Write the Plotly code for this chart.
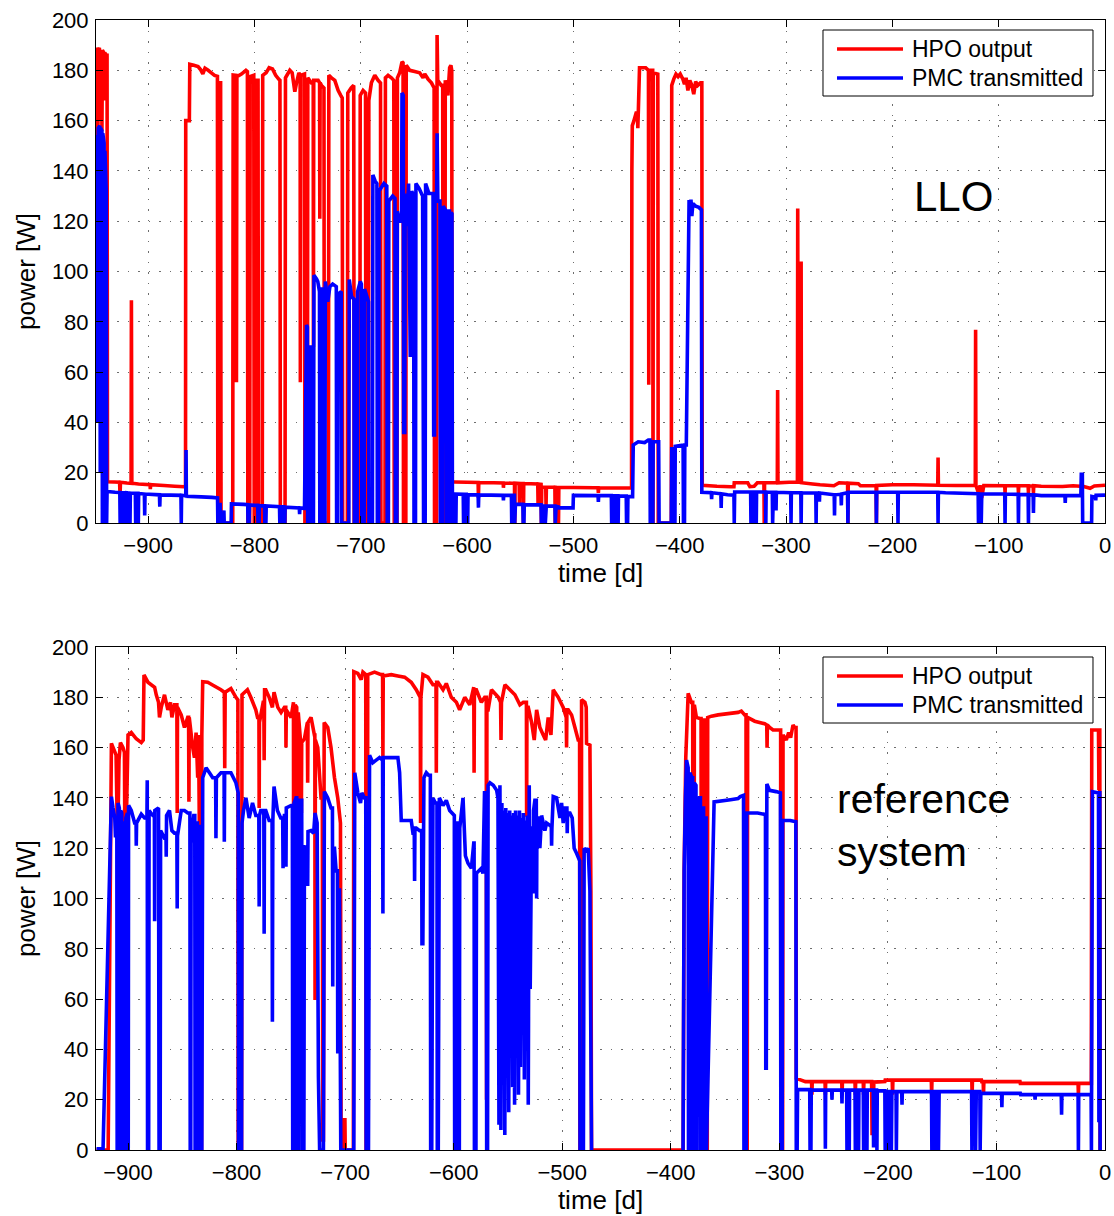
import plotly.graph_objects as go
from plotly.subplots import make_subplots

# ---------------------------------------------------------------------------
# LLO: HPO output power and PMC transmitted power, (time [d], power [W])
# ---------------------------------------------------------------------------
llo_hpo = [
    (-949.0, 152), (-948.6, 189), (-947.6, 187), (-947.2, 153), (-946.8, 188), (-945.8, 189),
    (-945.4, 160), (-945.0, 188), (-943.8, 186), (-943.4, 156), (-943.0, 188), (-941.6, 187),
    (-941.2, 168), (-940.8, 187), (-939.2, 186), (-938.6, 186), (-938.2, 16.4),
    (-932.0, 16.3), (-926.8, 16.2), (-926.4, 11.0), (-926.0, 16.2), (-920.0, 15.9), (-916.0, 15.8),
    (-915.7, 88.6), (-915.3, 15.8), (-909.0, 15.5), (-898.2, 15.2), (-897.9, 13.5), (-897.6, 15.2),
    (-885.0, 14.9), (-875.0, 14.6), (-866.0, 14.4), (-864.8, 14.3), (-864.6, 160), (-861.2, 160),
    (-860.8, 182.4), (-857.0, 182.0), (-853.0, 181.5), (-850.5, 180.2), (-848.5, 178.6),
    (-846.5, 180.8), (-843.5, 180.0), (-840.5, 179.0), (-837.5, 178.0), (-834.8, 177.6),
    (-834.4, 0), (-832.8, 0), (-832.4, 175), (-831.8, 175), (-831.4, 0), (-820.4, 0),
    (-820.0, 178.1), (-817.3, 178.0), (-816.9, 56), (-816.5, 177.5), (-812.2, 178.5),
    (-808.0, 180.0), (-806.6, 179.5), (-806.2, 0), (-804.4, 0), (-804.0, 177.5), (-800.6, 178.0),
    (-800.2, 0), (-798.6, 0), (-798.2, 176), (-796.6, 176), (-796.2, 0), (-792.6, 0), (-792.2, 178),
    (-789.0, 179), (-786.2, 181), (-783.0, 180.5), (-780.0, 178), (-777.2, 176.5), (-776.0, 176),
    (-775.6, 0), (-771.2, 0), (-770.8, 177), (-766.7, 180), (-764.5, 179), (-762.0, 171.5),
    (-760.4, 175), (-758.2, 179), (-757.0, 178), (-756.8, 56), (-756.4, 178), (-752.9, 178.5),
    (-752.5, 0), (-750.2, 0), (-749.8, 177), (-746.4, 175), (-744.7, 175), (-744.5, 70),
    (-744.2, 176), (-740.1, 176), (-738.7, 175), (-738.5, 121), (-738.2, 175), (-736.9, 174),
    (-734.6, 173), (-734.2, 0), (-730.4, 0), (-730.0, 178), (-727.5, 177), (-724.4, 176),
    (-721.3, 172), (-718.8, 170), (-717.4, 169), (-717.0, 0), (-712.6, 0), (-712.2, 171),
    (-709.0, 173), (-706.6, 174), (-706.2, 0), (-700.9, 0), (-700.5, 170), (-697.8, 172),
    (-695.5, 171), (-695.1, 0), (-692.8, 0), (-692.4, 168), (-690.0, 175), (-686.8, 178),
    (-683.7, 176), (-681.4, 175), (-681.0, 0), (-677.2, 0), (-676.8, 177), (-674.3, 178),
    (-671.2, 177), (-668.9, 176), (-668.5, 0), (-665.9, 0), (-665.5, 177), (-663.4, 179),
    (-661.2, 183.4), (-660.2, 183), (-659.8, 0), (-657.6, 0), (-657.2, 182), (-654.0, 180),
    (-649.3, 179.5), (-644.6, 179), (-641.4, 177), (-639.8, 178.5), (-636.7, 176.5),
    (-633.5, 175), (-631.0, 173), (-630.6, 0), (-628.6, 0), (-628.2, 194), (-627.6, 176),
    (-624.3, 174), (-622.9, 174), (-622.5, 0), (-620.9, 0), (-620.5, 176), (-618.0, 170),
    (-616.4, 181), (-615.2, 182), (-614.4, 180), (-614.0, 16.3),
    (-612.0, 16.3), (-600.0, 16.2), (-589.6, 16.1), (-589.3, 10.0), (-589.0, 16.1),
    (-575.0, 16.0), (-566.0, 15.9), (-565.8, 14.0), (-565.5, 15.9), (-558.0, 15.8),
    (-555.4, 15.8), (-555.1, 0), (-554.8, 15.8), (-551.0, 15.7), (-550.7, 7.0), (-550.4, 15.7),
    (-547.3, 15.7), (-547.0, 0), (-546.7, 15.7), (-540.0, 15.6), (-533.5, 15.5), (-533.2, 7),
    (-532.9, 15.5), (-530.4, 15.4), (-530.1, 0), (-529.8, 14.2), (-526.0, 14.2), (-525.7, 7.0),
    (-525.4, 14.2), (-517.4, 14.2), (-517.1, 0), (-516.8, 14.2), (-514.3, 14.1), (-514.0, 0),
    (-513.7, 14.1), (-500.0, 14.1), (-480.0, 14.0), (-476.8, 14.0), (-476.5, 12.0),
    (-476.2, 14.0), (-460.0, 13.9), (-447.0, 13.9), (-445.3, 13.9),
    (-445.0, 140), (-444.6, 158), (-443.0, 160), (-441.0, 163), (-439.8, 163), (-439.4, 157),
    (-438.9, 164), (-437.8, 181), (-432.0, 181), (-429.4, 180), (-429.1, 55), (-428.8, 180),
    (-425.4, 180), (-425.1, 0), (-424.8, 179), (-420.6, 178.5), (-420.2, 0), (-407.9, 0),
    (-407.5, 174), (-405.6, 176.5), (-403.5, 178.5), (-401.5, 177.5), (-399.5, 178.5),
    (-397.0, 176.5), (-395.5, 174.5), (-394.0, 177), (-392.3, 172), (-390.5, 176),
    (-388.6, 174), (-386.8, 170.5), (-385.0, 175.5), (-383.0, 174), (-380.5, 175),
    (-379.2, 175), (-378.8, 15.0),
    (-365.0, 14.6), (-352.0, 14.4), (-349.0, 14.4), (-348.7, 16.0), (-336.0, 16.0),
    (-334.0, 14.5), (-330.0, 14.6), (-327.0, 16.0), (-320.8, 16.0), (-320.5, 0), (-320.2, 16.0),
    (-308.2, 16.0), (-307.9, 52.9), (-307.6, 16.0), (-297.0, 16.2), (-289.3, 16.2),
    (-289.0, 125), (-288.6, 16.2), (-286.1, 16.2), (-285.8, 104), (-285.5, 16.0),
    (-275.0, 15.5), (-268.0, 15.2), (-255.0, 14.8), (-250.0, 16.0), (-242.1, 15.8),
    (-241.8, 0), (-241.5, 15.8), (-232.0, 15.6), (-230.0, 14.8), (-215.3, 14.8), (-215.0, 0),
    (-214.7, 14.9), (-200.0, 15.2), (-180.0, 15.2), (-157.3, 15.0), (-157.0, 26.0),
    (-156.7, 15.0), (-140.0, 14.9), (-122.0, 14.9), (-121.7, 76.8), (-121.4, 14.9),
    (-119.0, 12.0), (-117.5, 15.0), (-116.0, 10.0), (-114.0, 14.9), (-94.3, 14.8), (-94.0, 12),
    (-93.7, 14.8), (-81.7, 14.8), (-81.4, 12), (-81.1, 14.8), (-72.3, 14.8), (-72.0, 12),
    (-71.7, 14.8), (-67.6, 14.7), (-67.3, 12), (-67.0, 14.8), (-60.0, 14.6), (-40.0, 14.5),
    (-30.0, 14.8), (-20.0, 14.5), (-14.0, 13.8), (-10.0, 14.7), (0.0, 15.0),
]

llo_pmc = [
    (-949.0, 113), (-948.7, 153), (-947.7, 154), (-947.3, 40), (-946.9, 157), (-945.4, 158),
    (-945.0, 20), (-944.6, 157), (-943.4, 156), (-943.0, 0), (-942.6, 155), (-941.4, 151),
    (-941.0, 0), (-940.6, 148), (-939.4, 132), (-939.0, 0), (-938.6, 12.5),
    (-931.0, 12.2), (-926.6, 12.1), (-926.3, 0), (-925.3, 0), (-925.0, 12.0), (-923.8, 12.0),
    (-923.5, 0), (-923.2, 12.0), (-920.6, 12.0), (-920.3, 0), (-920.0, 12.0), (-917.3, 11.9),
    (-917.0, 0), (-916.7, 11.9), (-912.0, 11.8), (-911.7, 0), (-911.4, 11.8), (-910.7, 11.8),
    (-910.4, 0), (-910.1, 11.8), (-909.5, 11.8), (-909.2, 0), (-908.9, 11.7), (-903.5, 11.5),
    (-903.2, 3), (-902.9, 11.5), (-889.3, 11.2), (-889.0, 6.5), (-888.7, 11.2), (-869.1, 11.0),
    (-868.8, 0), (-868.5, 11.0), (-864.6, 10.8), (-864.3, 29), (-864.0, 10.6),
    (-850.0, 10.4), (-840.0, 10.2), (-834.7, 10.0), (-834.4, 0), (-832.6, 0), (-832.3, 8),
    (-832.0, 0), (-829.0, 0), (-828.7, 5), (-828.4, 0), (-821.9, 0), (-821.6, 7.6),
    (-810.0, 7.4), (-806.3, 7.3), (-806.0, 0), (-805.0, 0), (-804.7, 7.2), (-800.0, 7.0),
    (-796.9, 7.0), (-796.6, 0), (-795.6, 0), (-795.3, 6.9), (-790.5, 6.8), (-790.2, 0),
    (-789.2, 0), (-788.9, 6.8), (-776.4, 6.5), (-776.1, 0), (-775.1, 0), (-774.8, 6.4),
    (-772.4, 6.4), (-772.1, 0), (-771.4, 0), (-771.1, 6.3), (-757.8, 6.0), (-757.5, 3.5),
    (-757.2, 6.0), (-753.2, 5.8),
    (-752.9, 5.8), (-751.0, 78.7), (-750.2, 78), (-749.9, 0), (-749.0, 0), (-748.4, 70),
    (-746.2, 70), (-745.8, 0), (-744.5, 0), (-744.0, 98.5), (-741.6, 97), (-740.4, 96),
    (-738.8, 92), (-738.5, 0), (-737.5, 0), (-737.2, 93), (-735.0, 93), (-734.6, 0),
    (-733.7, 0), (-733.3, 96), (-731.0, 88), (-729.0, 94), (-726.4, 95), (-723.0, 94),
    (-722.7, 0), (-721.8, 0), (-721.5, 91), (-718.4, 92), (-718.0, 0), (-711.2, 0),
    (-710.8, 96.8), (-708.6, 90), (-706.4, 89), (-706.0, 0), (-703.4, 0), (-703.0, 92),
    (-700.4, 96), (-699.4, 95), (-699.0, 0), (-696.8, 0), (-696.4, 93), (-692.7, 88),
    (-692.3, 0), (-689.0, 0), (-688.6, 138.4), (-686.5, 136), (-684.8, 135), (-684.4, 0),
    (-683.2, 0), (-682.8, 132), (-678.2, 135), (-675.5, 134), (-675.1, 0), (-674.0, 0),
    (-673.6, 128), (-670.0, 130), (-667.8, 129), (-667.4, 0), (-666.0, 0), (-665.6, 124),
    (-663.4, 120), (-661.6, 120), (-661.2, 171), (-660.0, 170), (-659.6, 36), (-658.6, 36),
    (-658.2, 131), (-656.7, 118), (-655.0, 135), (-653.4, 66), (-652.0, 132), (-650.3, 130),
    (-649.9, 0), (-648.5, 0), (-648.1, 135), (-645.0, 133), (-641.8, 130), (-640.9, 0),
    (-639.4, 0), (-639.0, 135), (-635.8, 131), (-632.0, 131), (-631.4, 35), (-630.6, 35),
    (-630.2, 131), (-628.6, 131), (-628.2, 155), (-627.5, 128), (-625.5, 128), (-625.1, 0),
    (-622.8, 0), (-622.4, 126), (-619.6, 124), (-619.2, 0), (-618.4, 0), (-618.0, 124),
    (-616.5, 124), (-616.1, 0), (-615.3, 0), (-614.9, 123.5), (-614.2, 123), (-613.8, 11.8),
    (-612.3, 11.5), (-612.0, 0), (-610.5, 0), (-610.2, 11.5), (-603.6, 11.4), (-603.3, 0),
    (-602.0, 0), (-601.7, 11.4), (-600.8, 11.4), (-600.5, 0), (-599.4, 0), (-599.1, 11.3),
    (-589.6, 11.2), (-589.3, 6.1), (-589.0, 11.2), (-566.1, 11.0), (-565.8, 9.0),
    (-565.5, 11.0), (-558.3, 11.0), (-558.0, 0), (-557.0, 0), (-556.7, 11.0), (-555.5, 11.0),
    (-555.2, 0), (-554.5, 7.4), (-547.5, 7.4), (-547.2, 0), (-546.5, 0), (-546.2, 7.3),
    (-530.4, 7.2), (-530.1, 0), (-529.5, 0), (-529.2, 6.7), (-526.7, 6.7), (-526.4, 0),
    (-525.5, 6.7), (-517.3, 6.7), (-517.0, 0), (-516.3, 6.6), (-514.2, 6.4), (-513.9, 6.0),
    (-500.3, 6.0), (-500.0, 11.0), (-476.8, 10.9), (-476.5, 8.4), (-476.2, 10.9),
    (-464.3, 10.9), (-464.0, 0), (-463.0, 0), (-462.7, 10.8), (-461.0, 10.8), (-460.7, 0),
    (-459.8, 0), (-459.5, 10.8), (-458.2, 10.8), (-457.9, 0), (-457.6, 10.8), (-450.3, 10.7),
    (-450.0, 0), (-449.0, 0), (-448.7, 10.5), (-444.3, 10.5),
    (-443.7, 31.0), (-439.0, 32.3), (-433.0, 32.0), (-429.5, 33.0), (-428.0, 33.0),
    (-427.7, 0), (-425.3, 0), (-425.0, 32.3), (-419.8, 32.3), (-419.4, 0), (-407.9, 0),
    (-407.5, 29.5), (-405.5, 29.5), (-405.2, 0), (-404.5, 0), (-404.2, 30.5), (-396.8, 31),
    (-396.5, 0), (-395.5, 0), (-395.2, 31), (-393.8, 31), (-391.2, 128.4), (-390.3, 124),
    (-389.4, 128.6), (-388.6, 122), (-387.6, 127), (-385.0, 126), (-382.0, 125.5),
    (-379.6, 124.5), (-379.2, 12.2),
    (-370.3, 12.0), (-370.0, 9.5), (-369.7, 12.0), (-361.3, 11.6), (-361.0, 6.0),
    (-360.7, 11.6), (-355.0, 11.2), (-349.0, 11.1), (-348.7, 0), (-348.3, 12.3),
    (-333.3, 12.3), (-333.0, 0), (-332.2, 12.3), (-330.8, 12.3), (-330.5, 0), (-329.9, 12.3),
    (-328.3, 12.3), (-328.0, 0), (-327.7, 12.3), (-319.3, 12.3), (-319.0, 0), (-318.7, 12.3),
    (-312.9, 12.2), (-312.6, 0), (-311.9, 12.2), (-309.7, 12.2), (-309.4, 5), (-309.1, 12.2),
    (-295.6, 12.0), (-295.3, 0), (-295.0, 12.0), (-286.1, 12.0), (-285.8, 0), (-285.5, 12.0),
    (-272.0, 11.9), (-271.7, 0), (-271.4, 11.9), (-268.9, 11.9), (-268.6, 8.5),
    (-268.3, 11.9), (-254.7, 11.2), (-254.4, 3), (-254.1, 11.2), (-248.3, 11.4), (-248.0, 7),
    (-247.7, 11.5), (-242.1, 12.0), (-241.8, 0), (-241.5, 12.2), (-215.3, 12.2), (-215.0, 0),
    (-214.7, 12.2), (-195.0, 12.2), (-194.7, 0), (-194.4, 12.2), (-157.3, 12.2), (-157.0, 0),
    (-156.7, 12.2), (-150.0, 12.0), (-119.3, 11.6), (-119.0, 0), (-118.5, 11.6),
    (-117.8, 0), (-117.2, 11.5), (-116.4, 0), (-115.9, 11.5), (-94.3, 11.5), (-94.0, 0),
    (-93.7, 11.5), (-81.7, 11.4), (-81.4, 0), (-81.1, 11.4), (-72.3, 11.3), (-72.0, 0),
    (-71.7, 11.3), (-67.6, 11.2), (-67.3, 4), (-67.0, 11.2), (-60.0, 10.9), (-37.7, 10.9),
    (-37.4, 8), (-37.1, 10.9), (-22.7, 10.9), (-22.3, 19.4), (-21.3, 19.4), (-21.0, 0),
    (-12.6, 0), (-12.3, 10.5), (-9.0, 10.2), (-8.7, 9.0), (-8.4, 11.0), (0.0, 11.1),
]

# ---------------------------------------------------------------------------
# Reference system: HPO output power and PMC transmitted power
# ---------------------------------------------------------------------------
ref_hpo = [
    (-929.0, 0), (-918.3, 0), (-915.3, 161.7), (-912.8, 159), (-911.0, 157), (-910.0, 131),
    (-909.2, 131), (-908.3, 155), (-907.0, 162), (-904.6, 160), (-903.3, 158), (-903.0, 130.5),
    (-901.5, 131), (-900.0, 165), (-897.0, 166), (-892.4, 163.5), (-887.8, 162), (-886.0, 163),
    (-885.3, 188.9), (-881.7, 186), (-875.5, 184), (-874.0, 181), (-871.9, 178), (-871.0, 172),
    (-869.4, 176), (-866.4, 181), (-863.3, 175), (-860.9, 178), (-859.6, 172), (-857.2, 177),
    (-855.0, 177), (-854.7, 134), (-854.4, 176), (-851.0, 173), (-848.0, 168), (-845.0, 172),
    (-844.2, 172), (-843.9, 138.5), (-843.6, 172), (-840.4, 160), (-838.8, 156), (-837.3, 166),
    (-835.8, 148), (-835.0, 165), (-834.3, 128.6), (-833.6, 160), (-833.3, 0), (-832.3, 0),
    (-832.0, 165), (-831.2, 186.2), (-826.6, 186), (-820.5, 184.5), (-814.4, 183),
    (-811.3, 182), (-810.9, 151.8), (-810.5, 182), (-805.2, 183.5), (-800.6, 180),
    (-798.8, 179), (-798.5, 0), (-795.4, 0), (-795.0, 181), (-790.0, 183), (-786.9, 180),
    (-782.3, 175), (-780.7, 172), (-779.4, 172), (-779.2, 136), (-778.9, 170), (-775.5, 178),
    (-774.9, 178), (-774.6, 155), (-774.2, 183), (-773.1, 183), (-770.0, 180), (-767.0, 176),
    (-765.5, 182), (-762.0, 176), (-759.0, 174), (-755.9, 176), (-754.7, 176), (-754.5, 160),
    (-754.2, 175), (-749.8, 172), (-747.6, 178), (-747.2, 0), (-746.4, 0), (-746.0, 177),
    (-744.6, 176), (-744.2, 0), (-743.6, 0), (-743.2, 174), (-740.6, 160), (-740.3, 134),
    (-740.0, 162), (-737.5, 163.5), (-734.8, 170), (-734.5, 146), (-734.2, 170),
    (-731.4, 172), (-728.3, 165), (-727.9, 165), (-727.7, 59.6), (-727.4, 163), (-725.2, 160),
    (-723.7, 150), (-722.2, 140), (-721.0, 140), (-720.6, 4), (-720.0, 4), (-719.3, 170),
    (-716.0, 168), (-713.0, 160), (-709.8, 148), (-706.8, 140), (-704.3, 130), (-703.7, 1),
    (-700.9, 0), (-700.6, 12), (-700.2, 12), (-699.9, 0), (-692.4, 0), (-692.0, 190.2),
    (-688.3, 189.5), (-685.2, 187), (-683.6, 190), (-681.0, 189), (-680.7, 0), (-679.5, 0),
    (-679.2, 189), (-676.0, 189.5), (-672.9, 190), (-666.8, 189), (-665.5, 189),
    (-665.2, 156), (-664.9, 188.5), (-657.5, 189), (-651.4, 188.5), (-645.2, 188),
    (-639.1, 186), (-634.5, 183), (-630.8, 180), (-630.5, 130), (-630.2, 180), (-628.3, 189),
    (-623.7, 188), (-619.1, 185), (-616.3, 185), (-616.0, 150), (-615.7, 186), (-614.5, 186),
    (-609.8, 183), (-606.8, 185.5), (-602.2, 180), (-597.5, 178), (-594.5, 175),
    (-589.8, 180), (-585.2, 177), (-581.5, 184), (-581.2, 150), (-580.9, 183), (-579.1, 183),
    (-574.5, 178), (-571.4, 180), (-570.0, 180), (-569.7, 20), (-569.4, 175), (-568.3, 175),
    (-565.2, 183), (-561.0, 181), (-558.9, 180), (-556.8, 178), (-556.4, 163), (-556.0, 178),
    (-552.8, 185), (-548.2, 183), (-543.6, 181), (-539.0, 177), (-535.9, 178), (-533.0, 178),
    (-532.8, 132.5), (-532.5, 176), (-531.3, 176), (-528.2, 170), (-525.8, 163),
    (-523.6, 175), (-520.6, 168), (-517.5, 165), (-515.3, 163), (-512.9, 172), (-510.4, 165),
    (-508.3, 183), (-503.7, 180), (-499.1, 176), (-496.3, 172), (-496.0, 160), (-495.7, 175),
    (-494.5, 175), (-491.4, 173), (-488.3, 168), (-485.3, 163), (-484.0, 163), (-483.7, 0),
    (-482.5, 0), (-482.2, 179), (-479.1, 178), (-477.9, 176), (-477.6, 161.7), (-474.5, 161),
    (-473.6, 103), (-473.0, 0), (-388.6, 0), (-387.7, 111), (-386.2, 156), (-384.0, 181.6),
    (-381.0, 178), (-379.8, 178), (-379.5, 0), (-378.6, 0), (-378.3, 177), (-376.4, 172),
    (-373.3, 171.6), (-372.1, 171.6), (-371.8, 0), (-371.0, 0), (-370.6, 171), (-367.6, 171),
    (-367.2, 0), (-366.4, 0), (-366.0, 172), (-362.6, 172.5), (-356.4, 173), (-347.2, 173.5),
    (-338.0, 174), (-335.0, 174.5), (-331.9, 173), (-330.7, 173), (-330.4, 0), (-329.6, 0),
    (-329.2, 172), (-322.7, 170.5), (-313.5, 169.5), (-311.6, 169), (-311.3, 160),
    (-311.0, 169), (-308.9, 168), (-305.8, 167), (-298.8, 167), (-298.5, 0), (-297.0, 0),
    (-296.6, 165), (-293.6, 163), (-291.4, 166), (-289.6, 164), (-287.4, 169), (-285.9, 168),
    (-284.6, 168), (-284.4, 28.5),
    (-276.0, 27.2), (-270.3, 27.2), (-270.0, 22), (-269.7, 27.2), (-257.9, 27.2),
    (-257.6, 22), (-257.3, 27.2), (-242.5, 27.2), (-242.2, 22), (-241.9, 27.2),
    (-230.3, 27.2), (-230.0, 22), (-229.7, 27.2), (-222.7, 27.2), (-222.4, 22),
    (-222.1, 27.2), (-215.0, 27.2), (-214.6, 6.6), (-213.4, 6.6), (-213.0, 27.0),
    (-202.8, 27.2), (-202.5, 27.8), (-196.0, 27.8), (-195.7, 22), (-195.4, 27.8),
    (-160.0, 27.8), (-159.7, 22), (-159.4, 27.8), (-122.7, 27.8), (-122.4, 22),
    (-122.1, 27.8), (-113.8, 27.8), (-113.5, 27.2), (-112.2, 27.2), (-111.9, 22),
    (-111.6, 27.2), (-78.3, 27.2), (-78.0, 26.5), (-40.0, 26.5), (-24.8, 26.5), (-24.5, 22),
    (-24.2, 26.5), (-12.6, 26.5), (-12.2, 167), (-6.0, 167), (-5.6, 143), (-5.2, 167),
    (-4.8, 167), (-4.5, 0),
]

# PMC readings are missing (None) while the HPO was switched off
ref_pmc = [
    (-929.0, 0.5), (-923.0, 0.5), (-915.3, 140.5), (-913.8, 136), (-912.2, 132),
    (-911.6, 125), (-910.3, 125), (-910.0, 0), (-909.5, 0), (-909.2, 138), (-908.0, 136),
    (-907.6, 0), (-907.0, 0), (-906.7, 135), (-905.8, 134), (-905.5, 0), (-904.8, 0),
    (-904.4, 130), (-903.2, 130), (-902.8, 0), (-902.3, 0), (-902.0, 132), (-900.6, 134),
    (-900.3, 0), (-899.8, 0), (-899.5, 137), (-897.0, 135), (-893.9, 130), (-892.6, 130),
    (-892.4, 121), (-892.1, 130), (-887.8, 133.5), (-884.7, 132), (-882.6, 132),
    (-882.3, 147), (-882.0, 0), (-881.0, 0), (-880.6, 135), (-877.1, 133), (-875.7, 133),
    (-875.5, 91), (-875.3, 135), (-871.9, 136), (-871.4, 0), (-870.4, 0), (-870.0, 127),
    (-866.4, 124), (-865.0, 124), (-864.8, 116.6), (-864.5, 133), (-861.8, 135),
    (-859.6, 127), (-857.2, 126), (-855.0, 126), (-854.7, 96), (-854.4, 125), (-851.0, 135),
    (-848.0, 135), (-845.0, 134), (-843.0, 134), (-842.7, 0), (-842.2, 0), (-841.9, 122),
    (-839.4, 133), (-838.5, 133), (-838.2, 0), (-837.6, 0), (-837.2, 130), (-836.1, 130),
    (-835.8, 0), (-835.2, 0), (-834.8, 128.6), (-833.3, 128.6), (-833.0, 0), (-832.0, 0),
    (-831.2, 148), (-828.1, 152), (-825.0, 150), (-822.0, 148), (-819.3, 148), (-819.0, 124),
    (-818.6, 148), (-814.4, 150), (-811.5, 150), (-811.3, 122.6), (-811.0, 150),
    (-805.2, 150), (-800.6, 146), (-798.5, 142), (-798.2, 0), (-795.4, 0), (-795.0, 130),
    (-793.6, 135), (-791.4, 140), (-788.4, 132), (-785.3, 138), (-782.3, 133), (-779.5, 133),
    (-779.2, 96.8), (-778.9, 133), (-777.7, 135), (-774.9, 135), (-774.6, 86), (-774.3, 135),
    (-773.1, 135), (-770.0, 131), (-767.3, 131), (-767.0, 51), (-766.6, 131), (-765.5, 144.5),
    (-762.4, 135), (-759.3, 132), (-757.5, 132), (-757.2, 112), (-756.9, 130), (-756.0, 133),
    (-754.8, 133), (-754.5, 112.6), (-754.2, 136), (-749.8, 137), (-748.6, 137), (-748.3, 0),
    (-747.3, 0), (-747.0, 138), (-745.2, 140), (-744.6, 140), (-744.3, 0), (-743.0, 0),
    (-742.6, 139), (-740.0, 139), (-739.6, 0), (-738.0, 0), (-737.5, 120.6), (-734.8, 120),
    (-734.5, 105), (-734.2, 126.6), (-731.4, 127), (-729.0, 126), (-727.7, 134),
    (-725.8, 130), (-724.6, 29), (-723.5, 0), (-720.0, 0), (-719.1, 142.5), (-716.0, 140),
    (-713.0, 136), (-711.7, 136), (-711.4, 65), (-711.1, 120), (-709.8, 120), (-708.3, 111),
    (-707.1, 111), (-706.8, 38.4), (-706.3, 103.4), (-705.2, 103.4), (-704.0, 0),
    (-692.0, 0), (-691.1, 150), (-688.3, 142), (-685.8, 138), (-684.6, 142), (-682.2, 140),
    (-681.0, 140), (-680.6, 0), (-678.5, 0), (-677.5, 157), (-674.5, 154), (-671.4, 155),
    (-668.3, 156), (-665.5, 155), (-665.2, 94), (-664.9, 156), (-663.7, 156), (-657.5, 156),
    (-651.4, 156), (-649.8, 150), (-648.3, 131), (-639.1, 131), (-637.5, 126), (-636.3, 126),
    (-636.0, 107), (-635.7, 128), (-634.5, 128), (-631.4, 127), (-629.5, 127), (-629.2, 82),
    (-628.4, 82), (-627.4, 148), (-625.2, 150), (-623.1, 149), (-621.5, 149), (-621.2, 0),
    (-620.2, 0), (-619.1, 140), (-616.9, 138), (-615.4, 138), (-615.1, 0), (-614.2, 0),
    (-613.2, 140), (-609.8, 137), (-606.8, 139), (-603.7, 135), (-599.4, 133), (-599.1, 0),
    (-598.2, 0), (-597.8, 130), (-596.2, 130), (-595.9, 0), (-594.8, 0), (-594.4, 128),
    (-591.4, 140), (-589.2, 117), (-586.8, 114), (-583.7, 112), (-581.5, 122), (-581.2, 122),
    (-580.9, 0), (-579.5, 0), (-579.0, 110), (-574.5, 112), (-573.0, 110), (-571.6, 142),
    (-570.0, 142), (-569.6, 0), (-568.8, 0), (-568.3, 145), (-566.6, 146), (-563.5, 145),
    (-560.4, 143),
    (-559.2, 140), (-558.3, 10), (-557.4, 145), (-556.5, 8), (-555.6, 138), (-554.7, 60),
    (-553.8, 135), (-552.9, 6), (-552.0, 136), (-551.1, 30), (-550.2, 134), (-549.3, 15),
    (-548.4, 135), (-547.5, 40), (-546.6, 133), (-545.7, 25), (-544.8, 134), (-543.9, 18),
    (-543.0, 135), (-542.1, 42), (-541.2, 133), (-540.3, 22), (-539.4, 135), (-538.5, 33),
    (-537.6, 132), (-536.7, 50), (-535.8, 134), (-534.9, 28), (-534.0, 131), (-533.1, 55),
    (-532.2, 133), (-531.3, 18), (-530.4, 145), (-529.5, 64),
    (-528.2, 128), (-526.9, 128), (-526.7, 102), (-526.4, 135), (-525.2, 139), (-523.9, 139),
    (-523.6, 100), (-523.3, 132), (-522.1, 132), (-520.6, 120), (-519.0, 133), (-517.5, 130),
    (-516.0, 127), (-514.4, 130), (-511.3, 129), (-510.1, 129), (-509.8, 121), (-509.5, 128),
    (-508.3, 140.5), (-505.2, 140), (-502.1, 132), (-500.6, 138), (-499.1, 130),
    (-497.5, 136), (-495.7, 136), (-495.4, 126), (-495.1, 134), (-492.9, 134), (-490.8, 132),
    (-489.0, 120), (-486.8, 118), (-483.9, 115), (-483.6, 0), (-480.5, 0), (-479.8, 120),
    (-477.6, 119), (-476.1, 120), (-474.5, 103), (-473.0, 0), (-472.5, None),
    (-389.2, None), (-388.7, 0), (-387.7, 111),
    (-386.5, 140), (-385.5, 155), (-384.0, 152), (-383.7, 0), (-382.8, 0), (-382.4, 150),
    (-380.5, 148), (-379.8, 148), (-379.5, 0), (-378.8, 0), (-378.4, 146), (-376.8, 145),
    (-376.5, 0), (-375.8, 0), (-375.4, 130), (-373.5, 140), (-372.7, 140), (-372.4, 0),
    (-371.6, 0), (-371.2, 136), (-369.8, 136), (-369.5, 0), (-368.6, 0), (-368.2, 132),
    (-367.5, 132), (-367.2, 0), (-360.1, 138.4), (-345.0, 139.3), (-338.0, 139.7),
    (-336.0, 140.5), (-333.0, 141), (-332.6, 0), (-330.5, 0), (-330.1, 134), (-320.0, 134),
    (-314.0, 133.5), (-312.8, 133), (-312.5, 32.5), (-312.0, 32.5), (-311.5, 145.5),
    (-309.0, 143), (-303.0, 142.5), (-299.0, 142), (-298.6, 0), (-297.4, 0), (-297.0, 131),
    (-290.0, 131), (-284.8, 130.5), (-284.4, 0), (-283.6, 0), (-283.2, 24.0),
    (-272.0, 24.0), (-271.7, 0), (-270.9, 0), (-270.6, 23.8), (-257.9, 23.8), (-257.6, 0.5),
    (-257.3, 23.8), (-251.8, 23.8), (-251.5, 20), (-251.2, 23.8), (-242.6, 23.8),
    (-242.3, 18.5), (-242.0, 23.8), (-238.0, 23.8), (-237.7, 0), (-237.0, 0), (-236.7, 23.8),
    (-235.9, 23.8), (-235.6, 0), (-235.3, 23.8), (-230.3, 23.8), (-230.0, 0), (-229.7, 23.8),
    (-227.3, 23.8), (-227.0, 0), (-226.7, 23.8), (-222.7, 23.8), (-222.4, 0), (-222.1, 23.8),
    (-219.6, 23.8), (-219.3, 0), (-219.0, 23.8), (-213.5, 23.8), (-213.2, 1), (-212.9, 23.8),
    (-210.4, 23.8), (-210.1, 0), (-209.8, 23.5), (-202.8, 23.5), (-202.5, 0), (-202.0, 23.2),
    (-200.2, 23.2), (-199.9, 0), (-199.4, 23.2), (-197.1, 23.2), (-196.8, 0), (-196.3, 23.2),
    (-192.5, 23.2), (-192.2, 0), (-191.7, 23.2), (-187.3, 23.2), (-187.0, 18), (-186.7, 23.2),
    (-159.8, 23.2), (-159.5, 0), (-158.9, 23.2), (-156.8, 23.2), (-156.5, 0), (-155.9, 23.2),
    (-153.7, 23.2), (-153.4, 0), (-152.8, 23.2), (-122.9, 23.2), (-122.6, 0), (-122.0, 23.2),
    (-119.5, 23.2), (-119.2, 0), (-118.6, 23.2), (-115.3, 23.2), (-115.0, 0), (-114.4, 22.5),
    (-95.3, 22.5), (-95.0, 17), (-94.7, 22.5), (-78.0, 22.5), (-77.7, 22.0), (-64.7, 22.0),
    (-64.4, 20), (-64.1, 22.0), (-40.3, 22.0), (-40.0, 14), (-39.7, 22.0), (-24.8, 22.0),
    (-24.5, 0), (-24.2, 22.0), (-12.8, 22.0), (-12.5, 0), (-11.6, 142.5), (-6.0, 142),
    (-5.6, 11), (-5.3, 142), (-4.8, 142), (-4.5, 0),
]

x_ticks = [-900, -800, -700, -600, -500, -400, -300, -200, -100, 0]
y_ticks = [0, 20, 40, 60, 80, 100, 120, 140, 160, 180, 200]
series_names = ["HPO output", "PMC transmitted"]
series_colors = ["#ff0000", "#0000ff"]
panel_labels = ["LLO", "reference<br>system"]

FONT = "Liberation Sans, Arial, Helvetica, sans-serif"
LINE_W = 3.6

fig = make_subplots(rows=2, cols=1)

for row, series in ((1, [llo_hpo, llo_pmc]), (2, [ref_hpo, ref_pmc])):
    for data, name, color in zip(series, series_names, series_colors):
        t, p = zip(*data)
        fig.add_trace(
            go.Scatter(
                x=list(t), y=list(p), mode="lines", name=name,
                line=dict(color=color, width=LINE_W, simplify=False),
                connectgaps=False, showlegend=False, hoverinfo="skip",
            ),
            row=row, col=1,
        )

axis_common = dict(
    showline=True, linecolor="black", linewidth=1, mirror="allticks",
    ticks="inside", ticklen=7, tickwidth=1, tickcolor="black",
    showgrid=True, gridcolor="#6e6e6e", gridwidth=1, griddash="1.5px,9px",
    zeroline=False, automargin=False,
    tickfont=dict(family=FONT, size=22, color="black"),
)

fig.update_xaxes(
    **axis_common, tickvals=x_ticks, ticklabelstandoff=3,
    title=dict(text="time [d]", font=dict(family=FONT, size=26, color="black"), standoff=6),
)
fig.update_yaxes(
    **axis_common, tickvals=y_ticks, range=[0, 200], ticklabelstandoff=2,
    title=dict(text="power [W]", font=dict(family=FONT, size=26, color="black"), standoff=8),
)
fig.update_layout(
    xaxis=dict(range=[-949, 0], domain=[0, 1]),
    xaxis2=dict(range=[-929.5, 0], domain=[0, 1]),
    yaxis=dict(domain=[0.55487, 1.0]),
    yaxis2=dict(domain=[0.0, 0.44513]),
)

# Boxed legend in the upper right corner of each panel
for suffix in ("", "2"):
    xr, yr = f"x{suffix} domain", f"y{suffix} domain"
    fig.add_shape(
        type="rect", xref=xr, yref=yr, x0=0.7205, x1=0.9881, y0=0.8489, y1=0.9801,
        line=dict(color="black", width=1), fillcolor="white", layer="above",
    )
    for name, color, yy in zip(series_names, series_colors, (0.9423, 0.8847)):
        fig.add_shape(
            type="line", xref=xr, yref=yr, x0=0.7344, x1=0.7998, y0=yy, y1=yy,
            line=dict(color=color, width=LINE_W), layer="above",
        )
        fig.add_annotation(
            text=name, xref=xr, yref=yr, x=0.8067, y=yy,
            xanchor="left", yanchor="middle", showarrow=False,
            font=dict(family=FONT, size=23, color="black"),
        )

fig.add_annotation(
    text=panel_labels[0], xref="x domain", yref="y domain", x=0.85, y=0.65,
    xanchor="center", yanchor="middle", showarrow=False,
    font=dict(family=FONT, size=42, color="black"),
)
fig.add_annotation(
    text=panel_labels[1], xref="x2 domain", yref="y2 domain", x=0.732, y=0.646,
    xanchor="left", yanchor="middle", align="left", showarrow=False,
    font=dict(family=FONT, size=41, color="black"),
)

fig.update_layout(
    width=1114, height=1216,
    margin=dict(l=96, r=9, t=20, b=66),
    plot_bgcolor="white", paper_bgcolor="white",
    font=dict(family=FONT, color="black"),
    showlegend=False,
)

fig.write_html("out.html")
